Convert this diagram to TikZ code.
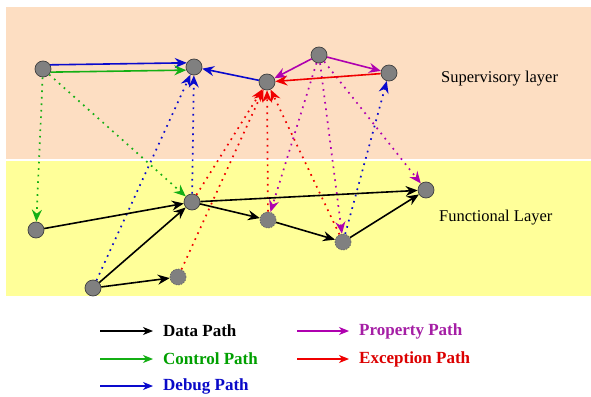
\documentclass[tikz,border=0pt]{standalone}
\usepackage{fontspec}
\setmainfont{Liberation Serif}
\usetikzlibrary{arrows.meta}
\definecolor{peach}{RGB}{253,222,194}
\definecolor{lyellow}{RGB}{255,255,153}
\definecolor{cblue}{RGB}{10,10,205}
\definecolor{cgreen}{RGB}{20,175,20}
\definecolor{cred}{RGB}{240,0,0}
\definecolor{cpurple}{RGB}{175,0,175}
\definecolor{nodegray}{RGB}{128,128,128}
\tikzset{
  vtx/.style={circle,fill=nodegray,draw=black!75,line width=0.7pt,minimum size=16pt,inner sep=0pt},
  dvtx/.style={vtx,draw=black!60,dash pattern=on 1.5pt off 1.2pt},
  arr/.style={-{Stealth[length=12pt,width=10pt,inset=4pt]}},
  solidpath/.style={arr,line width=1.6pt},
  dotpath/.style={arr,line width=1.7pt,dash pattern=on 1.7pt off 4.8pt},
  layertext/.style={font=\fontsize{16.5}{18}\selectfont,anchor=west,inner sep=0pt},
  legtext/.style={font=\fontsize{17}{19}\selectfont\bfseries,anchor=west,inner sep=0pt},
  legarr/.style={-{Stealth[length=10pt,width=8pt,inset=3pt]},line width=1.1pt}
}
\begin{document}
\begin{tikzpicture}[x=1pt,y=-1pt]
\useasboundingbox (0,0) rectangle (591,396);
\fill[white] (0,0) rectangle (591,396);
\fill[peach] (6,7) rectangle (591,159);
\fill[lyellow] (6,160.5) rectangle (591,296);

% layer labels
\node[layertext] (sup) at (441,79) {Supervisory layer};
\node[layertext] (fun) at (439,218) {Functional Layer};

% nodes
\node[vtx] (A) at (43,69) {};
\node[vtx] (B) at (194,67) {};
\node[vtx] (C) at (267,82) {};
\node[vtx] (D) at (319,55) {};
\node[vtx] (E) at (389,73) {};
\node[vtx] (F) at (36,230) {};
\node[vtx] (G) at (192,202) {};
\node[dvtx] (H) at (268,220) {};
\node[dvtx] (I) at (343,242) {};
\node[vtx] (J) at (426,190) {};
\node[vtx] (K) at (93,288) {};
\node[dvtx] (L) at (178,277) {};

% dotted paths
\draw[dotpath,cgreen] (A) -- (F);
\draw[dotpath,cgreen] (A) -- (G);
\draw[dotpath,cblue] (K) -- (B);
\draw[dotpath,cblue] (G) -- (B);
\draw[dotpath,cblue] (I) -- (E);
\draw[dotpath,cred] (G) -- (C);
\draw[dotpath,cred] (L) -- (C);
\draw[dotpath,cred] (H) -- (C);
\draw[dotpath,cred] (I) -- (C);
\draw[dotpath,cpurple] (D) -- (H);
\draw[dotpath,cpurple] (D) -- (I);
\draw[dotpath,cpurple] (D) -- (J);

% solid paths
\draw[solidpath,cblue] (A.30) -- (B.150);
\draw[solidpath,cgreen] (A.-22) -- (B.-158);
\draw[solidpath,cblue] (C) -- (B);
\draw[solidpath,cpurple] (D) -- (C);
\draw[solidpath,cpurple] (D) -- (E);
\draw[solidpath,cred] (E) -- (C);
\draw[solidpath,black] (F) -- (G);
\draw[solidpath,black] (K) -- (G);
\draw[solidpath,black] (K) -- (L);
\draw[solidpath,black] (G) -- (H);
\draw[solidpath,black] (H) -- (I);
\draw[solidpath,black] (I) -- (J);
\draw[solidpath,black] (G) -- (J);

% legend
\coordinate (l1s) at (100,331); \coordinate (l1e) at (153,331);
\coordinate (l2s) at (100,359); \coordinate (l2e) at (153,359);
\coordinate (l3s) at (100,386); \coordinate (l3e) at (153,386);
\coordinate (l4s) at (297,331); \coordinate (l4e) at (349,331);
\coordinate (l5s) at (297,359); \coordinate (l5e) at (349,359);
\draw[legarr,black] (l1s) -- (l1e);
\draw[legarr,cgreen] (l2s) -- (l2e);
\draw[legarr,cblue] (l3s) -- (l3e);
\draw[legarr,cpurple] (l4s) -- (l4e);
\draw[legarr,cred] (l5s) -- (l5e);
\node[legtext,text=black] (t1) at (163,331) {Data Path};
\node[legtext,text={rgb,255:red,0;green,160;blue,0}] (t2) at (163,359) {Control Path};
\node[legtext,text={rgb,255:red,10;green,10;blue,200}] (t3) at (163,386) {Debug Path};
\node[legtext,text={rgb,255:red,165;green,30;blue,165}] (t4) at (359,331) {Property Path};
\node[legtext,text={rgb,255:red,220;green,0;blue,0}] (t5) at (359,359) {Exception Path};
\end{tikzpicture}
\end{document}
